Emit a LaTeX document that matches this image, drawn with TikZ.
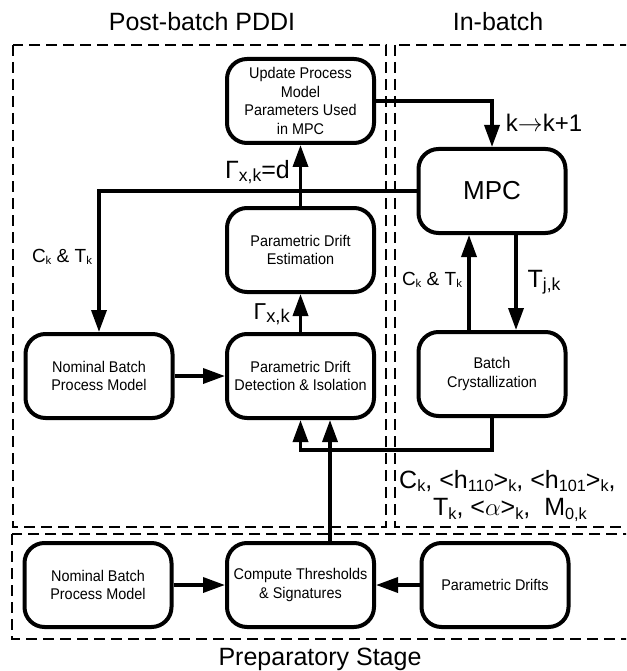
\documentclass[tikz,border=0pt]{standalone}
\usepackage{fontspec}
\setmainfont{Liberation Sans}
\newfontfamily\boxfont[FakeStretch=0.93]{Liberation Sans}
\usepackage{graphicx}
\usetikzlibrary{arrows.meta}
\newcommand\lsub[2][0.65]{\raisebox{-0.25ex}{\scalebox{#1}{#2}}}
\begin{document}
\begin{tikzpicture}[x=1pt,y=-1pt,
  blk/.style={draw, line width=4pt, rounded corners=20pt, minimum width=147pt, minimum height=84pt, align=center, font=\boxfont\fontsize{15.5}{18.5}\selectfont, inner sep=1pt},
  conn/.style={line width=3.5pt, -{Triangle[length=22pt,width=15pt]}},
  region/.style={dash pattern=on 11pt off 6pt, line width=1.6pt},
  title/.style={font=\fontsize{25}{30}\selectfont},
  lbl/.style={inner sep=0pt}
]
\clip (0,0) rectangle (626,671);
% regions
\draw[region] (13,45) rectangle (386,527);
\draw[region] (395,45) rectangle (660,527);
\draw[region] (12,534) rectangle (660,639);
% titles
\node[title] (t1) at (202,22) {Post-batch PDDI};
\node[title] (t2) at (498,22) {In-batch};
\node[title] (t3) at (320,659) {Preparatory Stage};
% blocks
\node[blk] (upd) at (300.5,101) {Update Process\\Model\\Parameters Used\\in MPC};
\node[blk, font=\fontsize{26}{30}\selectfont] (mpc) at (492,191) {MPC};
\node[blk] (est) at (300.5,250) {Parametric Drift\\Estimation};
\node[blk] (nom) at (99,376) {Nominal Batch\\Process Model};
\node[blk] (det) at (300.5,376) {Parametric Drift\\Detection \& Isolation};
\node[blk] (bat) at (492,374) {Batch\\Crystallization};
\node[blk] (pnom) at (98,585) {Nominal Batch\\Process Model};
\node[blk] (comp) at (300.5,585) {Compute Thresholds\\\& Signatures};
\node[blk] (drift) at (495,585) {Parametric Drifts};
% connectors
\draw[conn] (upd.east) -| (mpc.north);
\draw[conn] (mpc.west) -| (nom.north);
\draw[conn] (est.north) -- (upd.south);
\draw[conn] (det.north) -- (est.south);
\draw[conn] (nom.east) -- (det.west);
\draw[conn] ([xshift=24pt]mpc.south) -- ([xshift=24pt]bat.north);
\draw[conn] ([xshift=-23pt]bat.north) -- ([xshift=-23pt]mpc.south);
\coordinate (j) at (300.5,450);
\draw[conn] (bat.south) |- (j) -- (det.south);
\draw[conn] ([xshift=29.5pt]comp.north) -- ([xshift=29.5pt]det.south);
\draw[conn] (pnom.east) -- (comp.west);
\draw[conn] (drift.west) -- (comp.east);
% labels
\node[lbl, anchor=east, font=\fontsize{25}{28}\selectfont] (l1) at (290,172) {Γ\lsub[0.7]{x,k}=d};
\node[lbl, anchor=east, font=\fontsize{23}{26}\selectfont] (l2) at (290,314) {Γ\lsub[0.8]{x,k}};
\node[lbl, font=\fontsize{19}{22}\selectfont] (l3) at (62,257) {C\lsub[0.6]{k} \& T\lsub[0.6]{k}};
\node[lbl, font=\fontsize{19}{22}\selectfont] (l4) at (432,280) {C\lsub[0.6]{k} \& T\lsub[0.6]{k}};
\node[lbl, font=\fontsize{25}{28}\selectfont] (l5) at (544,282) {T\lsub[0.7]{j,k}};
\node[lbl, font=\fontsize{24}{26}\selectfont] (l6) at (544,123) {k$\rightarrow$k+1};
\node[lbl, anchor=west, font=\fontsize{25}{26}\selectfont] (l7) at (399,481) {C\lsub{k}, <h\lsub{110}>\lsub{k}, <h\lsub{101}>\lsub{k},};
\node[lbl, anchor=west, font=\fontsize{25}{26}\selectfont] (l8) at (433,510) {T\lsub{k}, <$\alpha$>\lsub{k}, \ M\lsub{0,k}};
\end{tikzpicture}
\end{document}
